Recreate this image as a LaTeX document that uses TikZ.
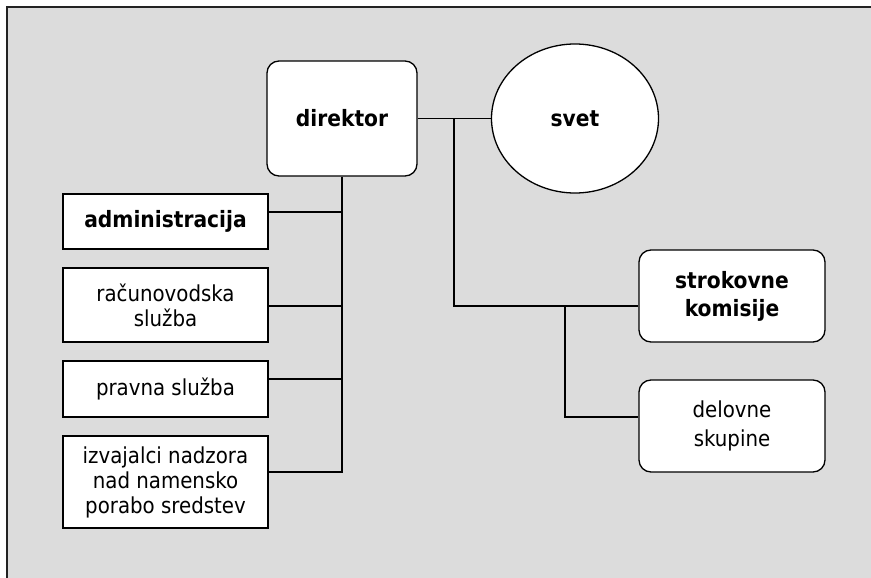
\documentclass[tikz,border=0pt]{standalone}
\usepackage{fontspec}
\setmainfont{DejaVu Sans Condensed}
\usetikzlibrary{shapes.geometric,calc}
\definecolor{bggray}{HTML}{DCDCDC}
\definecolor{framec}{HTML}{222222}
\tikzset{
  unit/.style={draw=black, fill=white, line width=1.3pt, inner sep=0pt, align=center,
    font=\fontsize{22}{25}\selectfont},
  boldtext/.style={font=\fontsize{22.5}{28}\selectfont\bfseries},
  widelines/.style={font=\fontsize{22}{29}\selectfont},
  sqbox/.style={unit},
  rbox/.style={unit, rounded corners=12pt},
  oval/.style={unit, ellipse},
  link/.style={line width=1.3pt, draw=black},
}
\begin{document}
\begin{tikzpicture}[x=1pt,y=-1pt]
\useasboundingbox (0,0) rectangle (871,578);
\fill[white] (0,0) rectangle (871,578);
\fill[bggray] (7,7) rectangle (871,578);
\draw[framec, line width=2.2pt] (7,578) -- (7,7) -- (871,7);

\node[rbox, boldtext, minimum width=150pt, minimum height=115pt] (dir) at (342,118.5) {direktor};
\node[oval, boldtext, minimum width=167pt, minimum height=149pt] (svet) at (575,118.5) {svet};

\node[sqbox, boldtext, minimum width=205pt, minimum height=55pt] (adm) at (165.5,221.5) {administracija};
\node[sqbox, minimum width=205pt, minimum height=74pt] (rac) at (165.5,305) {računovodska\\služba};
\node[sqbox, minimum width=205pt, minimum height=56pt] (prav) at (165.5,389) {pravna služba};
\node[sqbox, minimum width=205pt, minimum height=92pt] (izv) at (165.5,482) {izvajalci nadzora\\nad namensko\\porabo sredstev};

\node[rbox, boldtext, minimum width=186pt, minimum height=92pt] (strok) at (732,296) {strokovne\\komisije};
\node[rbox, widelines, minimum width=186pt, minimum height=92pt] (delo) at (732,426) {delovne\\skupine};

% director - svet
\draw[link] (dir.east) -- (svet.west);
\coordinate (j1) at (454,118.5);
\coordinate (sk) at ($(strok.west)+(0,10)$);
\coordinate (dk) at ($(delo.west)+(0,-9)$);
\draw[link] (j1) |- (sk);
\coordinate (j2) at (565,306);
\draw[link] (j2) |- (dk);

% left trunk
\coordinate (ak) at ($(adm.east)+(0,-9.5)$);
\coordinate (rk) at ($(rac.east)+(0,1)$);
\coordinate (pk) at ($(prav.east)+(0,-10)$);
\coordinate (ik) at ($(izv.east)+(0,-10)$);
\draw[link] (dir.south) -- (dir.south |- ik) -- (ik);
\draw[link] (ak) -- (dir.south |- ak);
\draw[link] (rk) -- (dir.south |- rk);
\draw[link] (pk) -- (dir.south |- pk);
\end{tikzpicture}
\end{document}
